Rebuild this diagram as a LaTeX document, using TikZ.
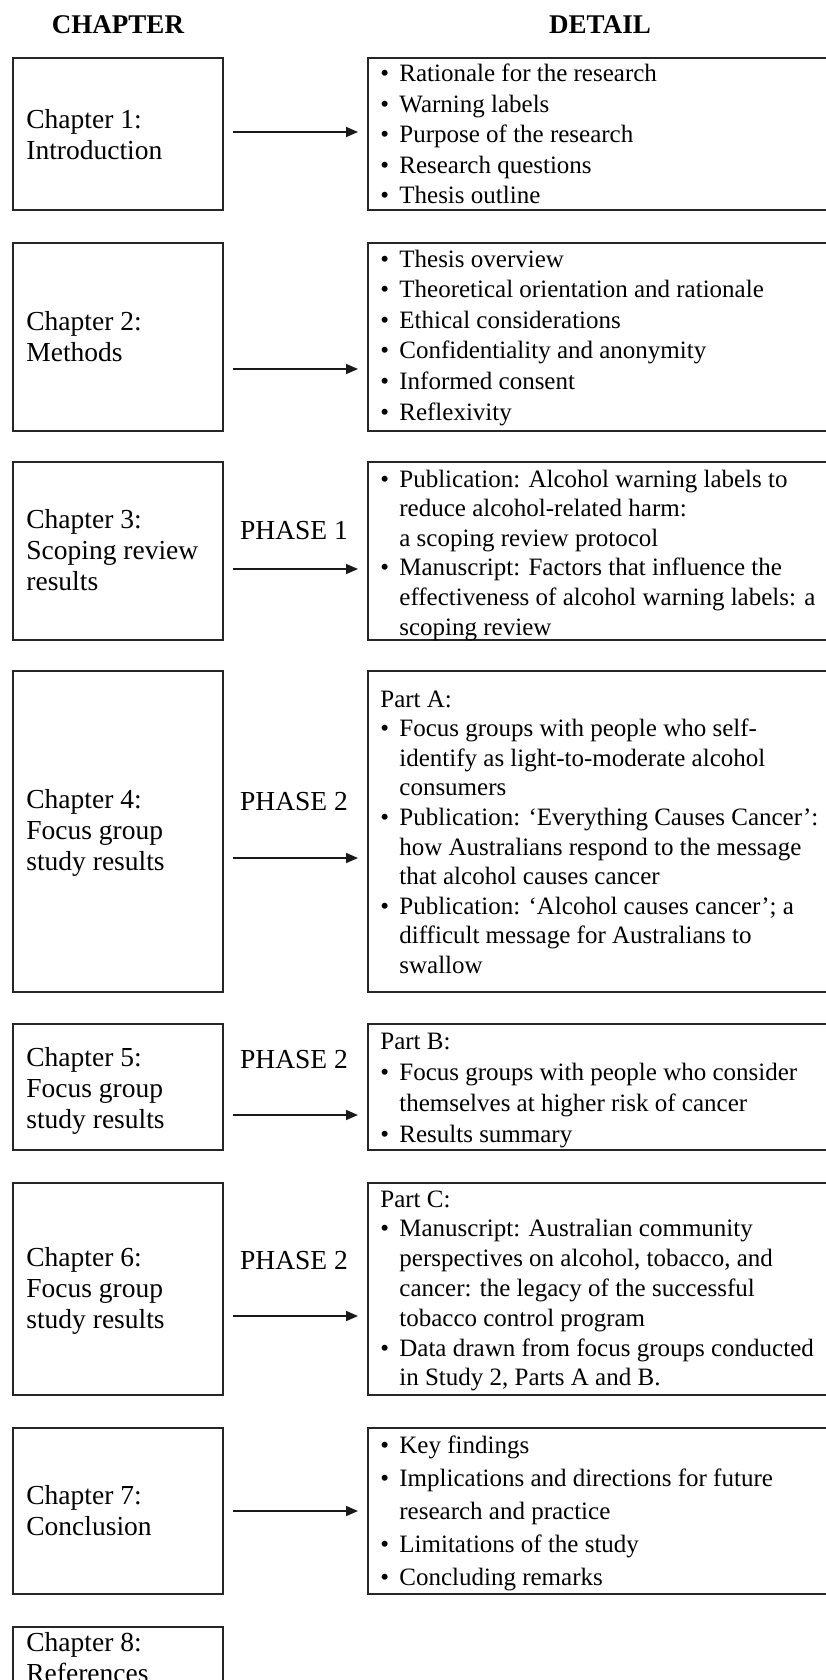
\documentclass[tikz,border=0pt]{standalone}
\usepackage{fontspec}
\setmainfont{Liberation Serif}
\usetikzlibrary{arrows.meta}
\tikzset{
  box/.style={draw=black!85, line width=1pt, anchor=north west, inner sep=0pt},
  lbl/.style={anchor=base west, inner sep=0pt},
  arr/.style={draw=black!90, line width=0.8pt, -{Triangle[length=6pt,width=5pt]}},
  phase/.style={anchor=base, inner sep=0pt, font=\fontsize{13.75pt}{15.5pt}\selectfont},
  head/.style={anchor=base, inner sep=0pt, font=\fontsize{13.5pt}{16pt}\selectfont\bfseries},
}
\newcommand{\rtext}[2]{\parbox[t]{250pt}{\fontsize{12.5pt}{#1}\selectfont\raggedright #2}}
\newcommand{\ltext}[1]{\parbox[t]{95pt}{\fontsize{13.75pt}{15.5pt}\selectfont\raggedright #1}}
\newcommand{\bul}{\makebox[9.5pt][l]{\textbullet}}
\newcommand{\ind}{\hspace*{9.5pt}}
\begin{document}
\begin{tikzpicture}[x=0.5pt,y=-0.5pt]
\useasboundingbox (0,0) rectangle (825,1680);

% headers
\node[head] (hc) at (118,34) {CHAPTER};
\node[head] (hd) at (600,34) {DETAIL};

% boxes
\node[box, minimum width=105pt, minimum height=76pt]   (c1) at (12,57) {};
\node[box, minimum width=231.5pt, minimum height=76pt] (d1) at (367,57) {};
\node[box, minimum width=105pt, minimum height=94pt]   (c2) at (12,242) {};
\node[box, minimum width=231.5pt, minimum height=94pt] (d2) at (367,242) {};
\node[box, minimum width=105pt, minimum height=89pt]   (c3) at (12,461) {};
\node[box, minimum width=231.5pt, minimum height=89pt] (d3) at (367,461) {};
\node[box, minimum width=105pt, minimum height=160.5pt]   (c4) at (12,670) {};
\node[box, minimum width=231.5pt, minimum height=160.5pt] (d4) at (367,670) {};
\node[box, minimum width=105pt, minimum height=63pt]   (c5) at (12,1023) {};
\node[box, minimum width=231.5pt, minimum height=63pt] (d5) at (367,1023) {};
\node[box, minimum width=105pt, minimum height=106pt]   (c6) at (12,1182) {};
\node[box, minimum width=231.5pt, minimum height=106pt] (d6) at (367,1182) {};
\node[box, minimum width=105pt, minimum height=83pt]   (c7) at (12,1427) {};
\node[box, minimum width=231.5pt, minimum height=83pt] (d7) at (367,1427) {};
\node[box, minimum width=105pt, minimum height=40pt]   (c8) at (12,1626) {};

% chapter texts
\node[lbl] (lt1) at (26,129)  {\ltext{Chapter 1:\\Introduction}};
\node[lbl] (lt2) at (26,330)  {\ltext{Chapter 2:\\Methods}};
\node[lbl] (lt3) at (26,528)  {\ltext{Chapter 3:\\Scoping review\\results}};
\node[lbl] (lt4) at (26,808)  {\ltext{Chapter 4:\\Focus group\\study results}};
\node[lbl] (lt5) at (26,1066) {\ltext{Chapter 5:\\Focus group\\study results}};
\node[lbl] (lt6) at (26,1266) {\ltext{Chapter 6:\\Focus group\\study results}};
\node[lbl] (lt7) at (26,1504) {\ltext{Chapter 7:\\Conclusion}};
\node[lbl] (lt8) at (26,1651) {\ltext{Chapter 8:\\References}};

% detail texts
\node[lbl] (rt1) at (380,82) {\rtext{15.25pt}{%
\bul Rationale for the research\\
\bul Warning labels\\
\bul Purpose of the research\\
\bul Research questions\\
\bul Thesis outline}};
\node[lbl] (rt2) at (380,267) {\rtext{15.3pt}{%
\bul Thesis overview\\
\bul Theoretical orientation and rationale\\
\bul Ethical considerations\\
\bul Confidentiality and anonymity\\
\bul Informed consent\\
\bul Reflexivity}};
\node[lbl] (rt3) at (380,487) {\rtext{14.8pt}{%
\bul Publication: Alcohol warning labels to\\
\ind reduce alcohol-related harm:\\
\ind a scoping review protocol\\
\bul Manuscript: Factors that influence the\\
\ind effectiveness of alcohol warning labels: a\\
\ind scoping review}};
\node[lbl] (rt4) at (380,707) {\rtext{14.8pt}{%
Part A:\\
\bul Focus groups with people who self-\\
\ind identify as light-to-moderate alcohol\\
\ind consumers\\
\bul Publication: ‘Everything Causes Cancer’:\\
\ind how Australians respond to the message\\
\ind that alcohol causes cancer\\
\bul Publication: ‘Alcohol causes cancer’; a\\
\ind difficult message for Australians to\\
\ind swallow}};
\node[lbl] (rt5) at (380,1049) {\rtext{15.5pt}{%
Part B:\\
\bul Focus groups with people who consider\\
\ind themselves at higher risk of cancer\\
\bul Results summary}};
\node[lbl] (rt6) at (380,1207) {\rtext{14.9pt}{%
Part C:\\
\bul Manuscript: Australian community\\
\ind perspectives on alcohol, tobacco, and\\
\ind cancer: the legacy of the successful\\
\ind tobacco control program\\
\bul Data drawn from focus groups conducted\\
\ind in Study 2, Parts A and B.}};
\node[lbl] (rt7) at (380,1453) {\rtext{16.5pt}{%
\bul Key findings\\
\bul Implications and directions for future\\
\ind research and practice\\
\bul Limitations of the study\\
\bul Concluding remarks}};

% phase labels
\node[phase] (p3) at (294,539)  {PHASE 1};
\node[phase] (p4) at (294,810)  {PHASE 2};
\node[phase] (p5) at (294,1068) {PHASE 2};
\node[phase] (p6) at (294,1269) {PHASE 2};

% arrows
\coordinate (a1s) at (233,132);  \coordinate (a1e) at (358,132);
\coordinate (a2s) at (233,369);  \coordinate (a2e) at (358,369);
\coordinate (a3s) at (233,569);  \coordinate (a3e) at (358,569);
\coordinate (a4s) at (233,858);  \coordinate (a4e) at (358,858);
\coordinate (a5s) at (233,1115); \coordinate (a5e) at (358,1115);
\coordinate (a6s) at (233,1316); \coordinate (a6e) at (358,1316);
\coordinate (a7s) at (233,1511); \coordinate (a7e) at (358,1511);
\foreach \i in {1,...,7} { \draw[arr] (a\i s) -- (a\i e); }
\end{tikzpicture}
\end{document}
